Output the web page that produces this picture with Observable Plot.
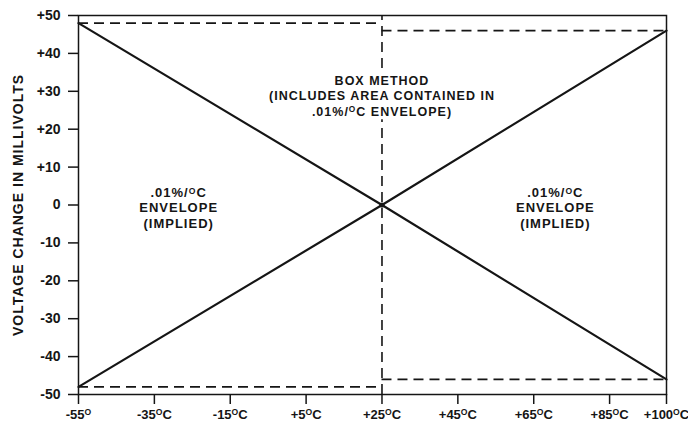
<!DOCTYPE html>
<html>
<head>
<meta charset="utf-8">
<script src="https://cdn.jsdelivr.net/npm/d3@7"></script>
<script src="https://cdn.jsdelivr.net/npm/@observablehq/plot@0.6"></script>
<style>
  html, body { margin: 0; padding: 0; background: #fff; }
</style>
</head>
<body>
<div id="chart"></div>
<script>
// Temperature axis (°C) and voltage axis (mV)
const xTicks = [-55, -35, -15, 5, 25, 45, 65, 85, 100];
const xTickLabels = ["-55°", "-35°C", "-15°C", "+5°C", "+25°C", "+45°C", "+65°C", "+85°C", "+100°C"];
const yTicks = [50, 40, 30, 20, 10, 0, -10, -20, -30, -40, -50];
const yTickLabels = ["+50", "+40", "+30", "+20", "+10", "0", "-10", "-20", "-30", "-40", "-50"];

// .01%/°C envelope lines crossing at +25°C
const crossTemps = [-55, 25, 100];
const fallingMv = [48, 0, -46];
const risingMv = [-48, 0, 46];

// Box method limits (dashed)
const boxFrom = [-55, 25, -55, 25];
const boxTo = [25, 100, 25, 100];
const boxMv = [48, 46, -48, -46];

// Dashed divider at +25°C, broken around the note
const dividerTemp = 25;
const dividerFrom = [-50, 36];
const dividerTo = [22.5, 50];

// Notes
const methodNote = "BOX METHOD\n(INCLUDES AREA CONTAINED IN\n.01%/°C ENVELOPE)";
const methodAt = {x: 25, y: 28.9};
const envelopeNote = ".01%/°C\nENVELOPE\n(IMPLIED)";
const envelopeTemps = [-28.6, 70.7];
const envelopeMv = [-0.7, -0.7];

const yTitle = "VOLTAGE CHANGE IN MILLIVOLTS";

const ink = "#151515";
const dash = {stroke: ink, strokeWidth: 1.6, strokeDasharray: "10,6"};

const chart = Plot.plot({
  width: 688,
  height: 425,
  marginLeft: 78,
  marginRight: 22,
  marginTop: 15,
  marginBottom: 31,
  style: {
    fontFamily: "'Liberation Sans', Arial, Helvetica, sans-serif",
    fontWeight: "bold",
    fontSize: "14px",
    color: ink,
    background: "#fff"
  },
  x: {domain: [-55, 100]},
  y: {domain: [-50, 50]},
  marks: [
    Plot.frame({stroke: ink, strokeWidth: 1.5}),
    Plot.axisX({
      ticks: xTicks,
      tickFormat: (d) => xTickLabels[xTicks.indexOf(d)],
      tickSize: 10,
      tickPadding: 5,
      strokeWidth: 1.5,
      fontSize: 13,
      label: null
    }),
    Plot.axisY({
      ticks: yTicks,
      tickFormat: (d) => yTickLabels[yTicks.indexOf(d)],
      tickSize: 10,
      tickPadding: 8,
      strokeWidth: 1.5,
      label: null
    }),
    // box-method limits
    Plot.ruleY(boxMv.map((v, i) => ({mv: v, a: boxFrom[i], b: boxTo[i]})), {
      y: "mv", x1: "a", x2: "b", ...dash
    }),
    Plot.ruleX(dividerFrom.map((v, i) => ({t: dividerTemp, a: v, b: dividerTo[i]})), {
      x: "t", y1: "a", y2: "b", ...dash
    }),
    // envelope lines
    Plot.line(crossTemps.map((t, i) => ({t, mv: fallingMv[i]})), {
      x: "t", y: "mv", stroke: ink, strokeWidth: 2.2
    }),
    Plot.line(crossTemps.map((t, i) => ({t, mv: risingMv[i]})), {
      x: "t", y: "mv", stroke: ink, strokeWidth: 2.2
    }),
    Plot.dot([{t: 25, mv: 0}], {x: "t", y: "mv", r: 2.6, fill: ink, stroke: "none"}),
    // notes
    Plot.text([methodNote], {
      x: methodAt.x, y: methodAt.y, text: (d) => d,
      fontSize: 12.5, lineHeight: 1.25, fill: ink
    }),
    Plot.text(envelopeTemps.map((t, i) => ({t, mv: envelopeMv[i]})), {
      x: "t", y: "mv", text: () => envelopeNote,
      fontSize: 13, lineHeight: 1.16, fill: ink
    }),
    Plot.text([yTitle], {
      frameAnchor: "left", dx: -60, rotate: -90, text: (d) => d,
      textAnchor: "middle", fontSize: 14, fill: ink
    })
  ]
});

document.getElementById("chart").append(chart);

// letter spacing for the note and title groups
const textGroups = chart.querySelectorAll('g[aria-label="text"]');
if (textGroups[0]) textGroups[0].setAttribute("letter-spacing", "1");
if (textGroups[1]) textGroups[1].setAttribute("letter-spacing", "1");
if (textGroups[2]) textGroups[2].setAttribute("letter-spacing", "1");

// draw the degree sign as a small raised "O"
const svgns = "http://www.w3.org/2000/svg";
chart.querySelectorAll("text, tspan").forEach((el) => {
  if (el.children.length) return;
  const s = el.textContent;
  const i = s.indexOf("°");
  if (i < 0) return;
  const size = parseFloat(getComputedStyle(el).fontSize) || 13;
  const lift = Math.round(size * 0.3 * 10) / 10;
  el.textContent = "";
  el.append(document.createTextNode(s.slice(0, i)));
  const sup = document.createElementNS(svgns, "tspan");
  sup.setAttribute("font-size", (size * 0.66).toFixed(1));
  sup.setAttribute("dy", -lift);
  sup.textContent = "O";
  el.append(sup);
  const rest = document.createElementNS(svgns, "tspan");
  rest.setAttribute("dy", lift);
  rest.textContent = s.slice(i + 1);
  el.append(rest);
});
</script>
</body>
</html>
